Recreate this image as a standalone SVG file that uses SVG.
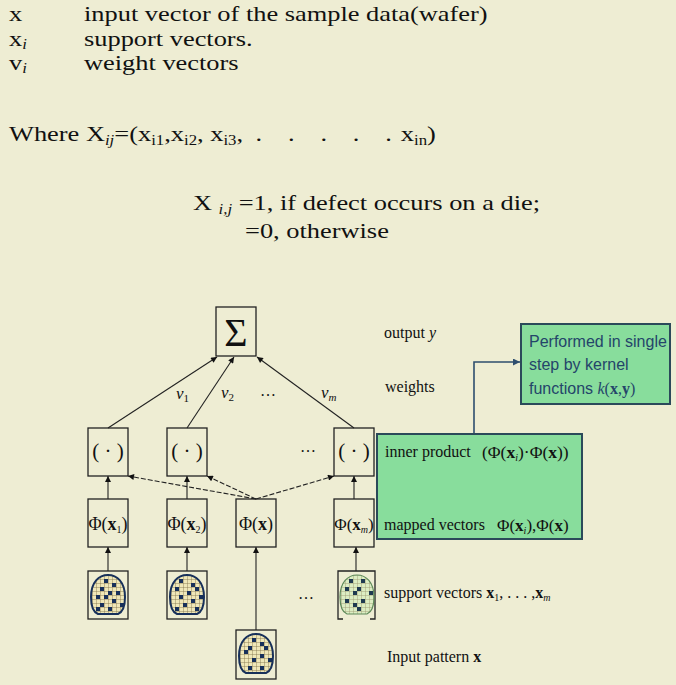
<svg xmlns="http://www.w3.org/2000/svg" width="676" height="685" viewBox="0 0 676 685">
<style>
  .t{font-family:"Liberation Serif","Times New Roman",serif;fill:#111}
  .top{font-size:22px}
  .lbl{font-size:16px}
  .sub{font-size:14px}
  .it{font-style:italic}
  .b{font-weight:bold}
  .box{fill:none;stroke:#222;stroke-width:1.3}
  .ln{stroke:#222;stroke-width:1.1;fill:none}
  .dash{stroke-dasharray:5 2}
  .green{fill:#88DD9C;stroke:#2B4A5A;stroke-width:2}
  .gt{font-family:"Liberation Sans",Arial,sans-serif;font-size:16px;fill:#24456A}
  .wfill{fill:#EFE7B8}
  .wedge{fill:none;stroke:#17305A;stroke-width:2}
  .cells{fill:#17305A}
</style>
<defs>
  <marker id="ah" viewBox="0 0 10 10" refX="10" refY="5" markerWidth="7" markerHeight="6" markerUnits="userSpaceOnUse" orient="auto">
    <path d="M0,0 L10,5 L0,10 Z" fill="#111"/>
  </marker>
  <marker id="ahb" viewBox="0 0 10 10" refX="10" refY="5" markerWidth="8" markerHeight="7" markerUnits="userSpaceOnUse" orient="auto">
    <path d="M0,0 L10,5 L0,10 Z" fill="#2E4E6E"/>
  </marker>
  <path id="wshape" d="M-17,2 C-17,-13 -9,-20 0,-20 C9,-20 17,-13 17,2 C17,11 15,17 10,19 L-10,19 C-15,17 -17,11 -17,2 Z"/>
  <clipPath id="wclip"><use href="#wshape"/></clipPath>
  <pattern id="grid" width="4" height="4" patternUnits="userSpaceOnUse">
    <path d="M0,0H4M0,0V4" stroke="#7C6E48" stroke-width="0.8"/>
  </pattern>
</defs>

<rect width="676" height="685" fill="#EEEDD3"/>

<!-- legend (the slide type is set wide, so the block is stretched horizontally) -->
<g id="legend" class="t top" transform="scale(1.2,1)">
  <text x="7.5" y="21">x</text>
  <text x="70" y="21">input vector of the sample data(wafer)</text>
  <text x="7.5" y="46">x<tspan class="sub it" dy="3">i</tspan></text>
  <text x="70" y="46">support vectors.</text>
  <text x="7.5" y="70">v<tspan class="sub it" dy="3">i</tspan></text>
  <text x="70" y="70">weight vectors</text>
  <text x="7.5" y="141">Where X<tspan class="sub it" dy="4">ij</tspan><tspan dy="-4">=(x</tspan><tspan class="sub" dy="4">i1</tspan><tspan dy="-4">,x</tspan><tspan class="sub" dy="4">i2</tspan><tspan dy="-4">, x</tspan><tspan class="sub" dy="4">i3</tspan><tspan dy="-4">,</tspan><tspan x="213 240 267 294 321">.....</tspan><tspan x="334">x</tspan><tspan class="sub" dy="4">in</tspan><tspan dy="-4">)</tspan></text>
</g>
<g id="definition" class="t top" transform="scale(1.2,1)">
  <text x="160.8" y="210">X <tspan class="sub it" dy="4">i,j</tspan><tspan dy="-4"> =1, if defect occurs on a die;</tspan></text>
  <text x="204.2" y="238">=0, otherwise</text>
</g>

<!-- connectors -->
<g id="connectors">
  <path class="ln" d="M108,428 L217,357" marker-end="url(#ah)"/>
  <path class="ln" d="M187,428 L234,357" marker-end="url(#ah)"/>
  <path class="ln" d="M354,428 L257,357" marker-end="url(#ah)"/>
  <path class="ln" d="M108,499 V476" marker-end="url(#ah)"/>
  <path class="ln" d="M187,499 V476" marker-end="url(#ah)"/>
  <path class="ln" d="M354,499 V476" marker-end="url(#ah)"/>
  <path class="ln dash" d="M256,499 L128,476" marker-end="url(#ah)"/>
  <path class="ln dash" d="M256,499 L207,476" marker-end="url(#ah)"/>
  <path class="ln dash" d="M256,499 L334,476" marker-end="url(#ah)"/>
  <path class="ln" d="M108,571 V547" marker-end="url(#ah)"/>
  <path class="ln" d="M187,571 V547" marker-end="url(#ah)"/>
  <path class="ln" d="M356,571 V547" marker-end="url(#ah)"/>
  <path class="ln" d="M256,630 V547" marker-end="url(#ah)"/>
  <path d="M474,434 V362 H520" fill="none" stroke="#2E4E6E" stroke-width="1.6" marker-end="url(#ahb)"/>
</g>

<!-- output -->
<g id="sum">
  <rect class="box" x="216" y="307" width="40" height="49"/>
  <text class="t" x="236" y="346" font-size="40" text-anchor="middle">Σ</text>
</g>

<!-- weights -->
<g id="weights" class="t lbl">
  <text x="176" y="399" font-size="17"><tspan class="it">v</tspan><tspan font-size="11" dy="3">1</tspan></text>
  <text x="221" y="398" font-size="17"><tspan class="it">v</tspan><tspan font-size="11" dy="3">2</tspan></text>
  <text x="260" y="396">…</text>
  <text x="321" y="398" font-size="17"><tspan class="it">v</tspan><tspan class="it" font-size="11" dy="3">m</tspan></text>
</g>

<!-- inner product nodes -->
<g id="dot1"><rect class="box" x="88" y="428" width="40" height="48"/><text class="t" x="108" y="458" font-size="21" text-anchor="middle">( · )</text></g>
<g id="dot2"><rect class="box" x="167" y="428" width="40" height="48"/><text class="t" x="187" y="458" font-size="21" text-anchor="middle">( · )</text></g>
<text class="t lbl" x="300" y="452">…</text>
<g id="dotm"><rect class="box" x="334" y="428" width="40" height="48"/><text class="t" x="354" y="458" font-size="21" text-anchor="middle">( · )</text></g>

<!-- mapped vector nodes -->
<g id="phi1"><rect class="box" x="88" y="499" width="40" height="48"/><text class="t" x="108" y="530" font-size="18" text-anchor="middle">Φ(<tspan class="b">x</tspan><tspan font-size="10" dy="3">1</tspan><tspan dy="-3">)</tspan></text></g>
<g id="phi2"><rect class="box" x="167" y="499" width="40" height="48"/><text class="t" x="187" y="530" font-size="18" text-anchor="middle">Φ(<tspan class="b">x</tspan><tspan font-size="10" dy="3">2</tspan><tspan dy="-3">)</tspan></text></g>
<g id="phix"><rect class="box" x="236" y="499" width="40" height="48"/><text class="t" x="256" y="530" font-size="18" text-anchor="middle">Φ(<tspan class="b">x</tspan>)</text></g>
<g id="phim"><rect class="box" x="334" y="499" width="40" height="48"/><text class="t" x="354" y="530" font-size="17" text-anchor="middle">Φ(<tspan class="b">x</tspan><tspan class="it" font-size="10" dy="3">m</tspan><tspan dy="-3">)</tspan></text></g>

<!-- support vector wafers -->
<g id="sv1">
  <rect class="box" x="88" y="571" width="40" height="48"/>
  <g transform="translate(108,595)">
    <use href="#wshape" class="wfill"/>
    <use href="#wshape" fill="url(#grid)"/>
    <g class="cells" clip-path="url(#wclip)">
      <rect x="-4" y="-16" width="4" height="4"/><rect x="4" y="-12" width="4" height="4"/>
      <rect x="-8" y="-8" width="4" height="4"/><rect x="0" y="-4" width="4" height="4"/>
      <rect x="8" y="-4" width="4" height="4"/><rect x="-12" y="0" width="4" height="4"/>
      <rect x="-4" y="0" width="4" height="4"/><rect x="4" y="4" width="4" height="4"/>
      <rect x="-8" y="8" width="4" height="4"/><rect x="12" y="8" width="4" height="4"/>
      <rect x="0" y="12" width="4" height="4"/><rect x="-12" y="12" width="4" height="4"/>
    </g>
    <use href="#wshape" class="wedge"/>
  </g>
</g>
<g id="sv2">
  <rect class="box" x="167" y="571" width="40" height="48"/>
  <g transform="translate(187,595)">
    <use href="#wshape" class="wfill"/>
    <use href="#wshape" fill="url(#grid)"/>
    <g class="cells" clip-path="url(#wclip)">
      <rect x="-8" y="-16" width="4" height="4"/><rect x="4" y="-12" width="4" height="4"/>
      <rect x="-12" y="-8" width="4" height="4"/><rect x="8" y="-8" width="4" height="4"/>
      <rect x="0" y="-4" width="4" height="4"/><rect x="-8" y="0" width="4" height="4"/>
      <rect x="12" y="0" width="4" height="4"/><rect x="4" y="4" width="4" height="4"/>
      <rect x="-4" y="8" width="4" height="4"/><rect x="8" y="12" width="4" height="4"/>
      <rect x="-12" y="12" width="4" height="4"/>
    </g>
    <use href="#wshape" class="wedge"/>
  </g>
</g>
<text class="t lbl" x="298" y="599">…</text>
<g id="svm">
  <path class="box" d="M343,571 H375 V619 H370 M343,619 H338 V571 H343"/>
  <g transform="translate(357,595)">
    <use href="#wshape" fill="#DCEDC2"/>
    <use href="#wshape" fill="url(#grid)" opacity="0.7"/>
    <g fill="#1F3A50" clip-path="url(#wclip)">
      <rect x="-8" y="-16" width="4" height="4"/><rect x="4" y="-16" width="4" height="4"/>
      <rect x="-12" y="-8" width="4" height="4"/><rect x="0" y="-8" width="4" height="4"/>
      <rect x="-4" y="-4" width="4" height="4"/><rect x="12" y="-4" width="4" height="4"/>
      <rect x="-12" y="4" width="4" height="4"/><rect x="4" y="4" width="4" height="4"/>
      <rect x="-4" y="8" width="4" height="4"/><rect x="0" y="12" width="4" height="4"/>
    </g>
    <use href="#wshape" fill="none" stroke="#5E8A5A" stroke-width="1.2"/>
  </g>
</g>

<!-- input pattern -->
<g id="input">
  <rect class="box" x="236" y="630" width="40" height="49"/>
  <g transform="translate(256,654)">
    <use href="#wshape" class="wfill"/>
    <use href="#wshape" fill="url(#grid)"/>
    <g class="cells" clip-path="url(#wclip)">
      <rect x="-4" y="-16" width="4" height="4"/><rect x="4" y="-12" width="4" height="4"/>
      <rect x="-8" y="-8" width="4" height="4"/><rect x="8" y="-8" width="4" height="4"/>
      <rect x="-12" y="-4" width="4" height="4"/><rect x="4" y="0" width="4" height="4"/>
      <rect x="-4" y="4" width="4" height="4"/><rect x="12" y="4" width="4" height="4"/>
      <rect x="-8" y="12" width="4" height="4"/><rect x="4" y="12" width="4" height="4"/>
    </g>
    <use href="#wshape" class="wedge"/>
  </g>
</g>

<!-- row labels -->
<g id="labels" class="t lbl">
  <text x="384" y="338">output <tspan class="it">y</tspan></text>
  <text x="385" y="392">weights</text>
  <text x="384" y="598">support vectors <tspan class="b">x</tspan><tspan font-size="10" dy="3">1</tspan><tspan dy="-3">, . . . ,</tspan><tspan class="b">x</tspan><tspan class="it" font-size="10" dy="3">m</tspan></text>
  <text x="387" y="662">Input pattern <tspan class="b">x</tspan></text>
</g>

<!-- kernel note -->
<g id="kernel-note">
  <rect class="green" x="521" y="324" width="149" height="80"/>
  <text class="gt" x="529" y="347">Performed in single</text>
  <text class="gt" x="529" y="370">step by kernel</text>
  <text class="gt" x="529" y="394">functions <tspan font-family="Liberation Serif,serif" font-style="italic">k</tspan><tspan font-family="Liberation Serif,serif">(<tspan class="b">x</tspan>,<tspan class="b">y</tspan>)</tspan></text>
</g>

<!-- inner product / mapped vectors panel -->
<g id="panel">
  <rect class="green" x="377" y="434" width="205" height="105"/>
  <text class="t lbl" x="385" y="457">inner product</text>
  <text class="t" x="482" y="458" font-size="17.5">(Φ(<tspan class="b">x</tspan><tspan class="it" font-size="10" dy="3">i</tspan><tspan dy="-3">)·Φ(</tspan><tspan class="b">x</tspan>))</text>
  <text class="t lbl" x="384" y="530">mapped vectors</text>
  <text class="t" x="497" y="531" font-size="17">Φ(<tspan class="b">x</tspan><tspan class="it" font-size="10" dy="3">i</tspan><tspan dy="-3">),Φ(</tspan><tspan class="b">x</tspan>)</text>
</g>
</svg>
